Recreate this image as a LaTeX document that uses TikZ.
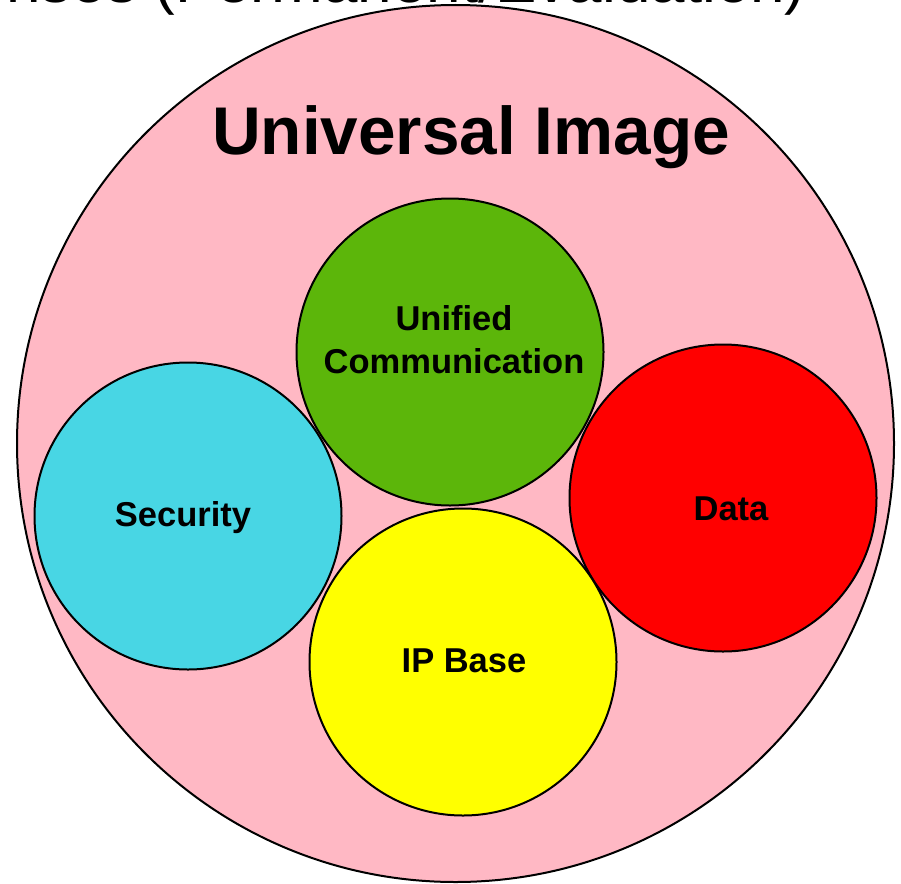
\documentclass[tikz,border=0pt]{standalone}
\usepackage{fontspec}
\setmainfont{Liberation Sans}
\definecolor{bigpink}{RGB}{255,184,196}
\definecolor{ucgreen}{RGB}{92,182,10}
\definecolor{seccyan}{RGB}{72,214,228}
\definecolor{datared}{RGB}{255,0,0}
\definecolor{ipyellow}{RGB}{255,255,0}
\tikzset{
  ring/.style={circle, draw=black, line width=2pt, inner sep=0pt, minimum size=#1},
  lbl/.style={anchor=base, inner sep=0pt, font=\bfseries\fontsize{34.5}{40}\selectfont},
}
\begin{document}
\begin{tikzpicture}[x=1pt,y=-1pt]
\useasboundingbox (0,0) rectangle (901,883);
\node[ring=877pt, fill=bigpink] (univ) at (455.5,443.5) {};
\node[anchor=base east, inner sep=0pt, font=\fontsize{62}{70}\selectfont] (lic) at (806,3) {Licenses (Permanent/Evaluation)};
\node[anchor=base, inner sep=0pt, font=\bfseries\fontsize{67.5}{80}\selectfont] (title) at (471,154) {Universal Image};
\node[ring=307pt, fill=ucgreen] (uc) at (450,352) {};
\node[ring=307pt, fill=seccyan] (sec) at (188,516) {};
\node[ring=307pt, fill=datared] (data) at (723,498) {};
\node[ring=307pt, fill=ipyellow] (ip) at (463,662) {};
\node[lbl] (uct1) at (454,330) {Unified};
\node[lbl] (uct2) at (454,373) {Communication};
\node[lbl] (sect) at (183,526) {Security};
\node[lbl] (datat) at (731,520) {Data};
\node[lbl] (ipt) at (464,672) {IP Base};
\end{tikzpicture}
\end{document}
